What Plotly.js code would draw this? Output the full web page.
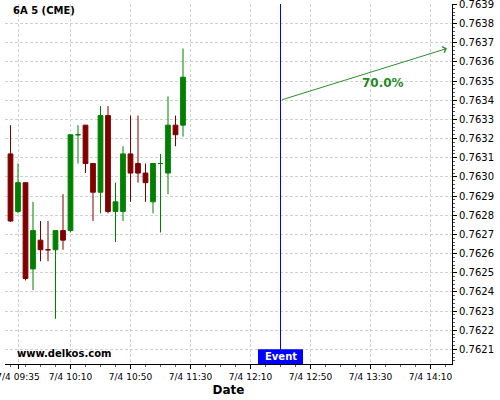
<!DOCTYPE html>
<html>
<head>
<meta charset="utf-8">
<script src="https://cdn.plot.ly/plotly-3.0.1.min.js"></script>
<style>html,body{margin:0;padding:0;background:#fff;}#chart{width:500px;height:400px;}</style>
</head>
<body>
<div id="chart"></div>
<script>
// ---- data ----
var times = ['2018-07-04 09:30','2018-07-04 09:35','2018-07-04 09:40','2018-07-04 09:45','2018-07-04 09:50','2018-07-04 09:55',
             '2018-07-04 10:00','2018-07-04 10:05','2018-07-04 10:10','2018-07-04 10:15','2018-07-04 10:20','2018-07-04 10:25',
             '2018-07-04 10:30','2018-07-04 10:35','2018-07-04 10:40','2018-07-04 10:45','2018-07-04 10:50','2018-07-04 10:55',
             '2018-07-04 11:00','2018-07-04 11:05','2018-07-04 11:10','2018-07-04 11:15','2018-07-04 11:20','2018-07-04 11:25'];
var opens  = [0.76312,0.76282,0.76297,0.76252,0.76267,0.76262,0.76262,0.76272,0.76272,0.76322,0.76327,0.76307,
              0.76292,0.76332,0.76282,0.76282,0.76312,0.76307,0.76302,0.76287,0.76307,0.76302,0.76327,0.76327];
var highs  = [0.76327,0.76307,0.76297,0.76287,0.76277,0.76277,0.76272,0.76291,0.76322,0.76327,0.76327,0.76307,
              0.76337,0.76337,0.76297,0.76316,0.76332,0.76332,0.76307,0.76307,0.76312,0.76342,0.76332,0.76367];
var lows   = [0.762765,0.76281,0.76246,0.76241,0.76256,0.76256,0.76226,0.76262,0.76271,0.76307,0.76302,0.76277,
              0.76281,0.76281,0.76266,0.76277,0.76287,0.76297,0.76287,0.76281,0.76271,0.76291,0.76316,0.76321];
var closes = [0.76277,0.76297,0.76247,0.76272,0.76262,0.76262,0.76272,0.76267,0.76322,0.76322,0.76307,0.76292,
              0.76332,0.76282,0.76287,0.76312,0.76302,0.76302,0.76297,0.76307,0.76307,0.76327,0.76322,0.76352];

var xTickVals = ['2018-07-04 09:35','2018-07-04 10:10','2018-07-04 10:50','2018-07-04 11:30',
                 '2018-07-04 12:10','2018-07-04 12:50','2018-07-04 13:30','2018-07-04 14:10'];
var xTickText = ['7/4 09:35','7/4 10:10','7/4 10:50','7/4 11:30','7/4 12:10','7/4 12:50','7/4 13:30','7/4 14:10'];

var eventTime = '2018-07-04 12:30';
var eventBoxStart = '2018-07-04 12:15';
var eventBoxEnd = '2018-07-04 12:45';
var trendStart = {x: '2018-07-04 12:30', y: 0.76340};
var trendEnd = {x: '2018-07-04 14:21', y: 0.76367};
var trendLabel = {x: '2018-07-04 13:38', y: 0.76349, text: '70.0%'};
var xRange = ['2018-07-04 09:26:20', '2018-07-04 14:24:20'];
var yRange = [0.762024, 0.763902];

var trace = {
  type: 'candlestick',
  x: times, open: opens, high: highs, low: lows, close: closes,
  increasing: {line: {color: '#008000', width: 1}, fillcolor: '#008000'},
  decreasing: {line: {color: '#800000', width: 1}, fillcolor: '#800000'},
  whiskerwidth: 0,
  hoverinfo: 'none'
};

var layout = {
  width: 500, height: 400,
  margin: {l: 5, r: 48, t: 4, b: 36},
  paper_bgcolor: '#ffffff', plot_bgcolor: '#ffffff',
  showlegend: false,
  boxgap: 0.1,
  font: {family: 'DejaVu Sans', color: '#000'},
  xaxis: {
    type: 'date', range: xRange,
    rangeslider: {visible: false},
    tickmode: 'array', tickvals: xTickVals, ticktext: xTickText,
    tickfont: {size: 9, color: '#000'},
    ticklabeloverflow: 'allow',
    ticks: 'outside', ticklen: 4, tickcolor: '#000',
    showline: true, linecolor: '#000', linewidth: 1,
    showgrid: true, gridcolor: '#d0d0d0', griddash: '3px,2px', gridwidth: 1,
    zeroline: false,
    minor: {ticks: 'outside', ticklen: 2, tickcolor: '#555', dtick: 600000, showgrid: false},
    title: {text: 'Date', font: {size: 12, color: '#000', family: 'DejaVu Sans', weight: 'bold'}, standoff: 4}
  },
  yaxis: {
    side: 'right', range: yRange,
    tickmode: 'linear', tick0: 0.7621, dtick: 0.0001, tickformat: '.4f',
    tickfont: {size: 10, color: '#000'},
    ticklabeloverflow: 'allow',
    ticks: 'outside', ticklen: 4, tickcolor: '#000',
    showline: true, linecolor: '#000', linewidth: 1,
    showgrid: true, gridcolor: '#d0d0d0', griddash: '3px,2px', gridwidth: 1,
    zeroline: false,
    minor: {ticks: 'outside', ticklen: 2, tickcolor: '#555', dtick: 0.00002, showgrid: false}
  },
  shapes: [
    {type: 'line', xref: 'x', yref: 'paper', x0: eventTime, x1: eventTime, y0: 0, y1: 1,
     line: {color: '#0000ff', width: 1}},
    {type: 'rect', xref: 'x', yref: 'paper', x0: eventBoxStart, x1: eventBoxEnd, y0: 0, y1: 0.041,
     fillcolor: '#0000ff', line: {width: 0}}
  ],
  annotations: [
    {xref: 'paper', yref: 'paper', x: 0.013, y: 0.983, xanchor: 'left', yanchor: 'middle',
     text: '<b>6A 5 (CME)</b>', showarrow: false, font: {size: 10, color: '#000', family: 'DejaVu Sans'}},
    {xref: 'paper', yref: 'paper', x: 0.022, y: 0.028, xanchor: 'left', yanchor: 'middle',
     text: '<b>www.delkos.com</b>', showarrow: false, font: {size: 10, color: '#000', family: 'DejaVu Sans'}},
    {xref: 'x', yref: 'paper', x: eventTime, y: 0.02, xanchor: 'center', yanchor: 'middle',
     text: '<b>Event</b>', showarrow: false, font: {size: 10, color: '#ffffff', family: 'DejaVu Sans'}},
    {xref: 'x', yref: 'y', axref: 'x', ayref: 'y',
     x: trendEnd.x, y: trendEnd.y, ax: trendStart.x, ay: trendStart.y,
     text: '', showarrow: true, arrowhead: 4, arrowsize: 1.2, arrowwidth: 1, arrowcolor: '#2a8f2a'},
    {xref: 'x', yref: 'y', x: trendLabel.x, y: trendLabel.y, xanchor: 'center', yanchor: 'middle',
     text: '<b>' + trendLabel.text + '</b>', showarrow: false, font: {size: 12, color: '#1f8a1f', family: 'DejaVu Sans'}}
  ]
};

Plotly.newPlot('chart', [trace], layout, {staticPlot: true, displayModeBar: false});
</script>
</body>
</html>
